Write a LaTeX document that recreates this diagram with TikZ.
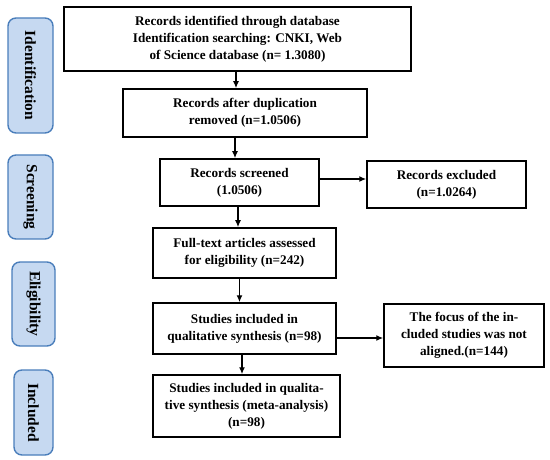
\documentclass[tikz,border=0pt]{standalone}
\usepackage{fontspec}
\setmainfont{Liberation Serif}
\usetikzlibrary{arrows.meta,calc}
\definecolor{stagefill}{RGB}{198,217,241}
\definecolor{stagedraw}{RGB}{74,126,187}
\begin{document}
\begin{tikzpicture}[x=1pt,y=-1pt,
  flowbox/.style={draw=black,line width=1.5pt,fill=white,align=center,inner sep=1pt,
    font=\fontsize{13.2}{17}\selectfont\bfseries},
  stagebox/.style={draw=stagedraw,line width=1.4pt,fill=stagefill,rounded corners=8pt,
    rotate=-90,inner sep=0pt,font=\fontsize{15.5}{17}\selectfont\bfseries},
  arr/.style={-{Latex[length=7pt,width=6pt]},line width=1.3pt}]
\useasboundingbox (0,0) rectangle (550,460);
% stage labels
\node[stagebox,minimum width=115,minimum height=45] (s1) at (30.5,75.5) {Identification};
\node[stagebox,minimum width=84,minimum height=45] (s2) at (30.5,197) {Screening};
\node[stagebox,minimum width=84,minimum height=43] (s3) at (33.5,304) {Eligibility};
\node[stagebox,minimum width=85,minimum height=39] (s4) at (33.5,412.5) {Included};
% flow boxes
\node[flowbox,minimum width=347,minimum height=64] (b1) at (237.5,39)
  {Records identified through database\\Identification searching: CNKI, Web\\of Science database (n= 1.3080)};
\node[flowbox,minimum width=244,minimum height=48] (b2) at (245,113)
  {Records after duplication\\removed (n=1.0506)};
\node[flowbox,minimum width=159,minimum height=47] (b3) at (239.5,182.5)
  {Records screened\\(1.0506)};
\node[flowbox,minimum width=159,minimum height=47] (ex) at (446.5,184.5)
  {Records excluded\\(n=1.0264)};
\node[flowbox,minimum width=183,minimum height=50] (b4) at (244.5,253)
  {Full-text articles assessed\\for eligibility (n=242)};
\node[flowbox,minimum width=183,minimum height=51] (b5) at (244.5,328.5)
  {Studies included in\\qualitative synthesis (n=98)};
\node[flowbox,minimum width=160,minimum height=63] (fo) at (464,335.5)
  {The focus of the in-\\cluded studies was not\\aligned.(n=144)};
\node[flowbox,minimum width=187,minimum height=62] (b6) at (246.5,406)
  {Studies included in qualita-\\tive synthesis (meta-analysis)\\(n=98)};
% connectors
\draw[arr] ([xshift=-1.5pt]b1.south) -- ([xshift=-1.5pt]b1.south |- b2.north);
\draw[arr] ([xshift=-4.5pt]b3.north |- b2.south) -- ([xshift=-4.5pt]b3.north);
\draw[arr] ([xshift=-1.5pt]b3.south) -- ([xshift=-1.5pt]b3.south |- b4.north);
\draw[arr] ([xshift=-5pt]b4.south) -- ([xshift=-5pt]b4.south |- b5.north);
\draw[arr] ([xshift=-2.5pt]b5.south) -- ([xshift=-2.5pt]b5.south |- b6.north);
\draw[arr] ([yshift=3.5pt]b3.east) -- ([yshift=3.5pt]b3.east -| ex.west);
\draw[arr] ([yshift=-2.5pt]b5.east |- fo.west) -- ([yshift=-2.5pt]fo.west);
\end{tikzpicture}
\end{document}
